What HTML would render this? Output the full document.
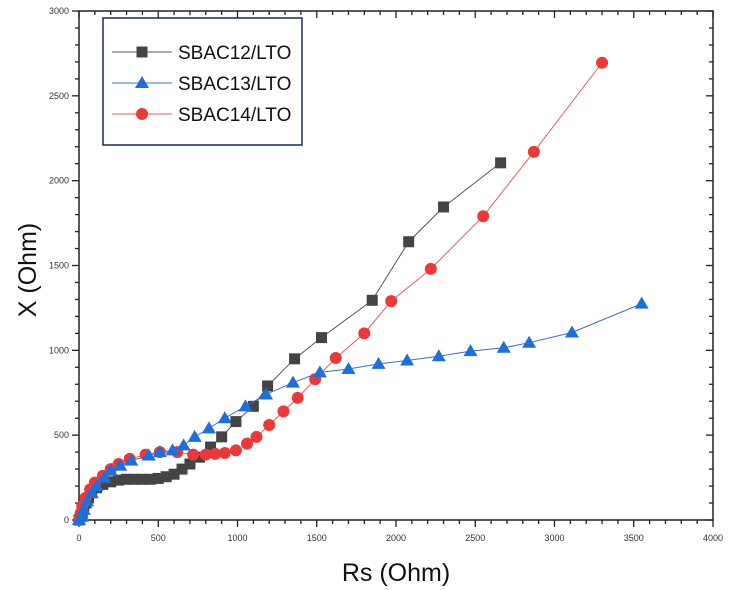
<!DOCTYPE html>
<html><head><meta charset="utf-8"><style>
body{margin:0;background:#fff;font-family:"Liberation Sans",sans-serif}
svg{display:block}
</style></head><body>
<svg id="c" width="729" height="590" viewBox="0 0 729 590"></svg>
<script>
const xTicks=[0,500,1000,1500,2000,2500,3000,3500,4000];
const yTicks=[0,500,1000,1500,2000,2500,3000];
const s12x=[0,10,20,30,45,60,80,110,150,200,250,300,350,400,450,500,550,600,650,700,760,830,900,990,1100,1190,1360,1530,1850,2080,2300,2660];
const s12y=[0,20,40,70,100,130,160,190,210,225,235,240,240,240,240,245,255,270,300,330,370,430,490,580,670,790,950,1075,1295,1640,1845,2105];
const s13x=[0,20,30,50,80,110,160,200,260,330,440,510,590,660,730,820,920,1050,1180,1350,1520,1700,1890,2070,2270,2470,2680,2840,3110,3550];
const s13y=[0,20,60,110,160,200,250,290,320,350,380,400,410,440,490,540,600,670,740,810,870,890,920,940,965,995,1015,1045,1105,1275];
const s14x=[0,10,20,40,70,100,150,200,250,320,420,510,620,720,800,860,920,990,1060,1120,1200,1290,1380,1490,1620,1800,1970,2220,2550,2870,3300];
const s14y=[0,40,80,130,180,220,260,300,330,360,385,400,400,385,385,390,395,410,450,490,560,640,720,830,955,1100,1290,1480,1790,2170,2695];
const NS="http://www.w3.org/2000/svg";
const svg=document.getElementById('c');
const X0=79,X1=713,Y0=520,Y1=11;
const sx=v=>X0+(v/4000)*(X1-X0);
const sy=v=>Y0-(v/3000)*(Y0-Y1);
function mk(t,a,p){const e=document.createElementNS(NS,t);for(const k in a)e.setAttribute(k,a[k]);(p||svg).appendChild(e);return e;}
const frame=mk('rect',{x:X0,y:Y1,width:X1-X0,height:Y0-Y1,fill:'none',stroke:'#222','stroke-width':1.5});


for(let v=0;v<=4000;v+=100){const maj=v%500===0,L=maj?7:4;
 mk('line',{x1:sx(v),x2:sx(v),y1:Y0,y2:Y0+L,stroke:'#222','stroke-width':1.3});
 mk('line',{x1:sx(v),x2:sx(v),y1:Y1,y2:Y1+L,stroke:'#222','stroke-width':1.3});}
for(let v=0;v<=3000;v+=100){const maj=v%500===0,L=maj?7:4;
 mk('line',{x1:X0,x2:X0-L,y1:sy(v),y2:sy(v),stroke:'#222','stroke-width':1.3});
 mk('line',{x1:X1,x2:X1-L,y1:sy(v),y2:sy(v),stroke:'#222','stroke-width':1.3});}
xTicks.forEach(v=>{const t=mk('text',{x:sx(v),y:Y0+21,'font-size':9,'text-anchor':'middle',fill:'#333'});t.textContent=v;

});
yTicks.forEach(v=>{const t=mk('text',{x:X0-10,y:sy(v)+3,'font-size':9,'text-anchor':'end',fill:'#333'});t.textContent=v;

});
const xt=mk('text',{x:396,y:581,'font-size':25,'text-anchor':'middle',fill:'#111'});xt.textContent='Rs (Ohm)';


const yt=mk('text',{x:0,y:0,'font-size':25,'text-anchor':'middle',fill:'#111',transform:'translate(36,270) rotate(-90)'});yt.textContent='X (Ohm)';


function marker(type,x,y,col,g){
 if(type==='sq')return mk('rect',{x:x-5.5,y:y-5.5,width:11,height:11,fill:col},g);
 if(type==='ci')return mk('circle',{cx:x,cy:y,r:6,fill:col},g);
 return mk('polygon',{points:`${x},${y-7} ${x-7},${y+5} ${x+7},${y+5}`,fill:col},g);}
function series(xs,ys,col,lc,type,name){
 const g=mk('g',{});
 
 
 mk('polyline',{points:xs.map((v,i)=>sx(v)+','+sy(ys[i])).join(' '),fill:'none',stroke:lc,'stroke-width':1},g);
 xs.forEach((v,i)=>{const m=marker(type,sx(v),sy(ys[i]),col,g);
  
  });}
series(s12x,s12y,'#444','#555','sq','series-sbac12');
series(s14x,s14y,'#e83a3a','#e06060','ci','series-sbac14');
series(s13x,s13y,'#1f6fd8','#3a6fc8','tr','series-sbac13');
const lg=mk('g',{});


mk('rect',{x:103,y:18,width:199,height:127,fill:'#fff',stroke:'#1b2a50','stroke-width':1.5},lg);
[['SBAC12/LTO','#444','#555','sq'],['SBAC13/LTO','#1f6fd8','#3a6fc8','tr'],['SBAC14/LTO','#e83a3a','#e06060','ci']].forEach((d,i)=>{
 const y=52+i*31;
 mk('line',{x1:112,x2:172,y1:y,y2:y,stroke:d[2],'stroke-width':1},lg);
 marker(d[3],142,y,d[1],lg);
 const t=mk('text',{x:178,y:y+7,'font-size':19,fill:'#111'},lg);t.textContent=d[0];
 
 });
</script>
</body></html>
